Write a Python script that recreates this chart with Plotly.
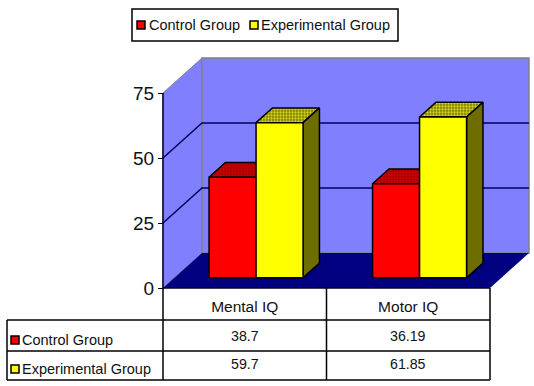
import plotly.graph_objects as go

categories = ["Mental IQ", "Motor IQ"]
series_names = ["Control Group", "Experimental Group"]
control_values = [38.7, 36.19]
experimental_values = [59.7, 61.85]
value_labels = [["38.7", "36.19"], ["59.7", "61.85"]]
y_ticks = [0, 25, 50, 75]

W, H = 534, 386
X0, X1, Y0, Y75 = 163, 490, 288, 93
DEPTH_PX_X, DEPTH_PX_Y = 39, 35
UX = (X1 - X0) / 2
UY = (Y0 - Y75) / 75
DX, DY = DEPTH_PX_X / UX, DEPTH_PX_Y / UY

FRONT_D, BACK_D = 0.29, 0.71
BAR_W = 0.2875
WALL = "#8080FF"
FLOOR = "#000080"
EDGE = "#808090"
GRID = "#000060"
FACES = {
    "Control Group": ("#FF0000", "#A80000", "#800000", "#D00000"),
    "Experimental Group": ("#FFFF00", "#808000", "#6E6E00", "#D8D820"),
}
FONT = "Liberation Sans"
TEXT = "#111111"


def P(c, v, d):
    return c + d * DX, v + d * DY


def poly(pts, fill, line=None, lw=1.5, pattern=None):
    xs, ys = zip(*pts)
    kw = dict(
        x=list(xs) + [xs[0]], y=list(ys) + [ys[0]], mode="lines", fill="toself", fillcolor=fill,
        line=dict(color=line or fill, width=lw if line else 0), hoverinfo="skip", showlegend=False,
        cliponaxis=False,
    )
    if pattern:
        kw["fillpattern"] = dict(shape=".", fgcolor=pattern, bgcolor=fill, size=3, solidity=0.45, fillmode="replace")
    return go.Scatter(**kw)


def polyline(pts, color, width):
    xs, ys = zip(*pts)
    return go.Scatter(x=list(xs), y=list(ys), mode="lines", line=dict(color=color, width=width), hoverinfo="skip",
                      showlegend=False, cliponaxis=False)


fig = go.Figure()
top = y_ticks[-1]
# walls and floor
fig.add_trace(poly([P(0, 0, 0), P(0, top, 0), P(0, top, 1), P(0, 0, 1)], WALL, EDGE, 1))
fig.add_trace(poly([P(0, 0, 1), P(0, top, 1), P(2, top, 1), P(2, 0, 1)], WALL, EDGE, 1.5))
fig.add_trace(poly([P(0, 0, 0), P(2, 0, 0), P(2, 0, 1), P(0, 0, 1)], FLOOR))
# gridlines
for t in y_ticks[1:-1]:
    fig.add_trace(polyline([P(0, t, 0), P(0, t, 1), P(2, t, 1)], GRID, 1.5))


def bar(c0, value, name):
    front, top_c, side, dots = FACES[name]
    c1 = c0 + BAR_W
    fig.add_traces([
        poly([P(c0, value, FRONT_D), P(c1, value, FRONT_D), P(c1, value, BACK_D), P(c0, value, BACK_D)],
             top_c, "#000000", 1.5, pattern=dots),
        poly([P(c1, 0, FRONT_D), P(c1, value, FRONT_D), P(c1, value, BACK_D), P(c1, 0, BACK_D)], side, "#000000", 1.5),
        poly([P(c0, 0, FRONT_D), P(c1, 0, FRONT_D), P(c1, value, FRONT_D), P(c0, value, FRONT_D)], front, "#000000", 1.5),
    ])


for i in range(len(categories)):
    center = i + 0.5
    bar(center - BAR_W, control_values[i], series_names[0])
    bar(center, experimental_values[i], series_names[1])

# axis lines
fig.add_trace(polyline([(0, top), (0, 0), (2, 0)], "#000020", 1.5))


def fx(p):
    return p / W


def fy(p):
    return 1 - p / H


shapes, annotations = [], []


def line(x0, y0, x1, y1, w=1.5):
    shapes.append(dict(type="line", xref="paper", yref="paper", x0=fx(x0), y0=fy(y0), x1=fx(x1), y1=fy(y1),
                       line=dict(color="#000000", width=w)))


def swatch(cx, cy, color):
    shapes.append(dict(type="rect", xref="paper", yref="paper", x0=fx(cx - 4), x1=fx(cx + 4), y0=fy(cy - 4),
                       y1=fy(cy + 4), fillcolor=color, line=dict(color="#000000", width=1.5)))


def text(x, y, s, anchor="left", size=14.5):
    annotations.append(dict(xref="paper", yref="paper", x=fx(x), y=fy(y), text=s, showarrow=False, xanchor=anchor,
                            yanchor="middle", borderpad=0, borderwidth=0,
                            font=dict(family=FONT, size=size, color=TEXT)))


# legend box
shapes.append(dict(type="rect", xref="paper", yref="paper", x0=fx(132), x1=fx(398), y0=fy(9), y1=fy(41),
                   line=dict(color="#000000", width=1.5), fillcolor="#FFFFFF"))
swatch(141, 25, FACES[series_names[0]][0])
text(149, 25, series_names[0])
swatch(254, 25, FACES[series_names[1]][0])
text(261, 25, series_names[1])

# data table
for xpos in (X0, (X0 + X1) / 2, X1):
    line(xpos, 288, xpos, 380)
for ypos in (320, 351, 380):
    line(7, ypos, X1, ypos)
line(7, 320, 7, 380)
for r, (ry, ly) in enumerate([(336, 340), (364, 369)]):
    swatch(15, ly, FACES[series_names[r]][0])
    text(22, ly, series_names[r])
    for i in range(2):
        text(X0 + (i + 0.5) * UX, ry, value_labels[r][i], anchor="center", size=14.2)

fig.update_layout(
    width=W, height=H, margin=dict(l=0, r=0, t=0, b=0, pad=0, autoexpand=False), paper_bgcolor="#FFFFFF",
    plot_bgcolor="rgba(0,0,0,0)", showlegend=False, shapes=shapes, annotations=annotations,
    font=dict(family=FONT, color=TEXT),
    xaxis=dict(domain=[0, 1], range=[-X0 / UX, (W - X0) / UX], tickvals=[0.5, 1.5], ticktext=categories, ticks="",
               showgrid=False, zeroline=False, showline=False, anchor="free", position=1 - Y0 / H,
               tickfont=dict(size=15.5, family=FONT, color=TEXT), ticklabelstandoff=7, fixedrange=True),
    yaxis=dict(domain=[0, 1], range=[-(H - Y0) / UY, Y0 / UY], tickvals=y_ticks, ticks="outside", ticklen=5,
               tickcolor="#000000", showgrid=False, zeroline=False, showline=False, anchor="free",
               position=X0 / W, tickfont=dict(size=19, family=FONT, color=TEXT), fixedrange=True),
)
fig.write_html("out.html", post_script="document.body.style.margin='0';", config=dict(displayModeBar=False))
